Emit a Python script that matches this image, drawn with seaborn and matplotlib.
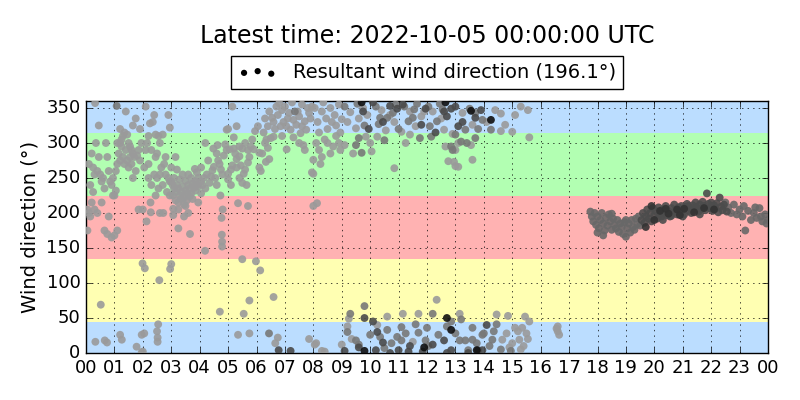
import matplotlib
matplotlib.use('Agg')
import matplotlib.pyplot as plt
import pandas as pd
import seaborn as sns

plt.style.use('classic')

# (hour of day, wind direction in degrees) grouped by how dark the marker is
light_pts = [
    (0.05, 205), (0.1, 200), (0.15, 195), (0.1, 270), (0.2, 285), (0.25, 265), (0.3, 255), (0.35, 300),
    (0.4, 260), (0.5, 255), (0.55, 245), (0.6, 250), (0.7, 300), (0.75, 280), (0.8, 260), (0.85, 245),
    (0.9, 240), (0.95, 250), (0.05, 175), (0.2, 215), (0.3, 205), (0.4, 200), (0.55, 215), (0.65, 175),
    (0.75, 170), (0.8, 195), (0.9, 165), (0.52, 69), (0.33, 16), (0.66, 18), (0.74, 15), (0.32, 357),
    (0.45, 325), (0.15, 240), (0.25, 230), (0.45, 280), (0.65, 235), (0.95, 225),
    (1.0, 225), (1.05, 232), (1.05, 260), (1.1, 270), (1.15, 285), (1.2, 300), (1.25, 305), (1.3, 310),
    (1.35, 315), (1.45, 312), (1.5, 300), (1.55, 295), (1.6, 290), (1.65, 285), (1.7, 280), (1.8, 282),
    (1.85, 290), (1.9, 275), (1.3, 280), (1.35, 270), (1.4, 290), (1.45, 275), (1.5, 265), (1.6, 270),
    (1.65, 250), (1.75, 260), (1.2, 275), (1.1, 300), (1.25, 295), (1.55, 280), (1.95, 300), (1.4, 345),
    (1.2, 320), (1.65, 325), (1.9, 320), (1.75, 335), (1.85, 205), (1.0, 168), (1.1, 175), (1.2, 26),
    (1.26, 19), (1.96, 26),
    (2.05, 265), (2.1, 290), (2.15, 300), (2.2, 310), (2.25, 328), (2.35, 330), (2.4, 340), (2.1, 352),
    (2.3, 290), (2.45, 312), (2.55, 310), (2.6, 300), (2.45, 280), (2.2, 250), (2.3, 240), (2.4, 255),
    (2.5, 250), (2.6, 255), (2.65, 265), (2.75, 270), (2.8, 255), (2.9, 250), (2.95, 245), (2.45, 225),
    (2.13, 188), (2.27, 215), (2.28, 201), (2.72, 200), (2.6, 200), (2.0, 205), (2.2, 270), (2.55, 235),
    (2.7, 240), (2.85, 230), (2.9, 340), (2.95, 322), (2.7, 312), (2.5, 285), (2.8, 280), (2.95, 225),
    (1.99, 128), (2.07, 121), (2.58, 104), (2.96, 120), (3.0, 127), (2.54, 41), (2.5, 31), (2.52, 22),
    (2.52, 16), (2.0, 2), (2.05, 28), (1.78, 9), (1.96, 1),
    (3.0, 245), (3.05, 240), (3.1, 235), (3.15, 230), (3.2, 240), (3.25, 235), (3.3, 225), (3.35, 230),
    (3.4, 238), (3.45, 222), (3.5, 232), (3.55, 228), (3.6, 240), (3.65, 235), (3.7, 228), (3.75, 242),
    (3.8, 236), (3.85, 245), (3.9, 240), (3.95, 250), (3.05, 225), (3.15, 218), (3.25, 215), (3.35, 220),
    (3.45, 212), (3.55, 218), (3.65, 224), (3.75, 220), (3.85, 232), (3.95, 238), (3.1, 250), (3.3, 248),
    (3.5, 246), (3.7, 250), (3.9, 258), (3.2, 262), (3.6, 255), (3.4, 255), (3.83, 263), (3.25, 205),
    (3.5, 210), (3.07, 197), (3.25, 178), (3.66, 170), (3.07, 206), (3.45, 195), (3.95, 215), (3.6, 200),
    (3.0, 265), (3.15, 280),
    (4.05, 245), (4.1, 240), (4.15, 250), (4.2, 235), (4.25, 255), (4.3, 275), (4.35, 243), (4.4, 252),
    (4.45, 261), (4.5, 266), (4.48, 292), (4.55, 250), (4.6, 285), (4.65, 275), (4.7, 270), (4.75, 262),
    (4.8, 255), (4.85, 282), (4.9, 298), (4.95, 290), (4.19, 146), (4.81, 205), (4.77, 193), (4.78, 169),
    (4.79, 159), (4.79, 152), (4.71, 59), (4.73, 225), (4.05, 228), (4.6, 240), (4.95, 319), (4.63, 297),
    (4.2, 300), (4.05, 265),
    (5.0, 256), (5.1, 262), (5.15, 268), (5.3, 277), (5.4, 281), (5.45, 268), (5.55, 256), (5.6, 262),
    (5.7, 272), (5.75, 280), (5.9, 291), (5.2, 292), (5.4, 295), (5.5, 292), (5.7, 290), (5.05, 291),
    (5.0, 320), (5.3, 324), (5.2, 308), (5.95, 317), (5.15, 352), (5.35, 214), (5.7, 210), (5.5, 134),
    (5.75, 75), (5.55, 56), (5.35, 26), (5.75, 28), (5.0, 248), (5.5, 243), (5.65, 240), (5.4, 250),
    (5.25, 285), (5.6, 300), (5.85, 305), (5.1, 240), (5.3, 265), (5.8, 295),
    (5.98, 131), (6.13, 118), (6.6, 80), (6.75, 22), (6.66, 14), (6.1, 286), (6.3, 300), (6.4, 293),
    (6.45, 277), (6.33, 273), (6.5, 307), (6.6, 309), (6.05, 324), (6.4, 324), (6.55, 336), (6.7, 352),
    (6.8, 357), (6.9, 347), (6.85, 324), (6.1, 265), (6.15, 260), (6.25, 315), (6.3, 335), (6.45, 345),
    (6.6, 330), (6.75, 340), (6.95, 330), (6.2, 285), (6.35, 305), (6.65, 320), (6.9, 310),
    (7.06, 291), (7.0, 352), (7.15, 343), (7.3, 333), (7.5, 338), (7.6, 324), (7.7, 331), (7.85, 343),
    (7.95, 352), (7.05, 324), (7.2, 319), (7.4, 326), (7.55, 314), (7.6, 355), (7.75, 319), (7.65, 297),
    (7.7, 290), (7.95, 258), (8.0, 276), (7.85, 20), (8.1, 14), (8.0, 210), (7.25, 358), (7.45, 345),
    (7.8, 350), (7.1, 335), (7.9, 335), (7.5, 300), (7.3, 308),
    (8.1, 300), (8.2, 290), (8.3, 280), (8.4, 305), (8.5, 300), (8.6, 285), (8.7, 295), (8.8, 310),
    (8.9, 300), (8.15, 330), (8.3, 345), (8.45, 335), (8.6, 350), (8.75, 340), (8.9, 355), (8.2, 315),
    (8.5, 320), (8.8, 325), (8.05, 350), (8.35, 358), (8.65, 330), (8.95, 315), (8.13, 214), (8.0, 256),
    (8.25, 270), (8.05, 12), (8.4, 2),
    (9.0, 334), (9.3, 344), (9.75, 350), (9.9, 340), (9.5, 321), (9.85, 309), (9.1, 297), (10.05, 288),
    (10.4, 347), (10.85, 330), (10.55, 318), (10.25, 309), (10.85, 264), (11.1, 316), (11.4, 345),
    (11.8, 338), (11.6, 324), (11.4, 312), (12.2, 345), (12.6, 319), (12.9, 313), (12.65, 295),
    (12.75, 274), (13.0, 267), (13.25, 343), (13.6, 326), (13.55, 297), (13.0, 290), (14.6, 317),
    (14.75, 326), (15.0, 316), (15.6, 308), (15.3, 352), (15.55, 347), (14.6, 342), (13.1, 300),
    (13.6, 276), (13.1, 266), (12.95, 273), (9.2, 330), (8.95, 290), (9.6, 335), (10.7, 340), (11.9, 345),
    (12.5, 335), (14.4, 347), (14.1, 330), (15.1, 340), (10.0, 300), (11.25, 300), (9.4, 285),
    (9.25, 49), (9.35, 20), (8.3, 3), (10.25, 40), (10.6, 52), (11.15, 56), (11.7, 56), (12.34, 76),
    (13.15, 56), (14.45, 55), (14.85, 53), (15.1, 36), (15.2, 31), (15.35, 36), (15.45, 52), (15.5, 28),
    (15.4, 10), (15.25, 19), (15.0, 14), (14.8, 28), (14.65, 19), (16.56, 35), (16.6, 31), (16.65, 26),
    (16.6, 38), (15.6, 45), (15.55, 20), (15.3, 5), (14.9, 8), (9.0, 12), (9.2, 38), (11.5, 16),
]

mid_pts = [
    (1.08, 353), (6.44, 28), (7.35, 345),
    (9.1, 352), (9.55, 356), (9.6, 307), (9.7, 286), (9.5, 297), (10.2, 352), (10.6, 336), (10.3, 327),
    (10.5, 304), (10.8, 343), (11.2, 352), (11.65, 356), (11.35, 331), (11.75, 307), (11.5, 336),
    (12.05, 352), (12.45, 356), (12.1, 324), (12.35, 331), (12.15, 309), (12.85, 295), (13.5, 349),
    (13.35, 319), (13.2, 302), (13.4, 300), (13.7, 343), (13.95, 333), (14.25, 319), (13.0, 312),
    (12.9, 290), (13.7, 307), (10.35, 336), (11.0, 320), (12.55, 348), (13.8, 320), (9.8, 325),
    (10.9, 355), (11.55, 348),
    (9.3, 56), (9.8, 67), (9.2, 30), (9.5, 18), (10.0, 26), (10.35, 23), (10.6, 33), (10.75, 14),
    (10.95, 23), (11.1, 37), (11.25, 28), (11.7, 29), (11.95, 18), (11.6, 41), (12.0, 36), (12.2, 56),
    (12.4, 26), (12.7, 38), (12.05, 10), (13.0, 28), (13.35, 18), (13.6, 36), (13.95, 26), (13.15, 18),
    (13.6, 19), (14.0, 28), (14.35, 31), (14.45, 41), (14.3, 19), (14.2, 10), (14.6, 5), (13.75, 14),
    (12.85, 45), (13.2, 48), (10.5, 7), (11.1, 18), (9.6, 12), (14.95, 3), (13.45, 4),
]

dark_pts = [
    (6.78, 4), (7.2, 3),
    (9.75, 345), (10.45, 330), (10.95, 349), (11.15, 355), (11.95, 349), (12.7, 338), (12.85, 349),
    (13.7, 336), (13.9, 347), (13.0, 352), (10.7, 353), (11.8, 326), (12.6, 345), (9.95, 320),
    (12.3, 315), (13.25, 330), (13.1, 324), (10.1, 358),
    (9.8, 50), (9.6, 8), (10.1, 45), (10.2, 4), (10.45, 15), (10.7, 0), (11.0, 4), (11.35, 2), (11.85, 2),
    (12.6, 18), (12.85, 4), (12.7, 0), (13.8, 4), (13.45, 0), (13.95, 4), (10.25, 30), (11.4, 10),
    (12.2, 12), (14.1, 40), (9.1, 3),
]

black_pts = [
    (13.55, 346), (14.25, 333), (12.65, 358), (9.7, 358),
    (9.8, 3), (12.7, 50), (12.85, 33), (11.9, 8), (13.75, 4),
]

band_mid_pts = [
    (17.75, 202), (17.8, 195), (17.85, 188), (17.9, 200), (17.95, 183), (18.0, 195), (18.05, 178),
    (18.1, 190), (18.15, 200), (18.2, 185), (18.25, 175), (18.3, 193), (18.35, 182), (18.4, 198),
    (18.45, 188), (18.5, 176), (18.55, 192), (18.6, 183), (18.65, 178), (18.7, 190), (18.75, 173),
    (18.8, 185), (18.85, 180), (18.9, 170), (18.95, 187), (19.0, 166), (19.05, 178), (19.1, 185),
    (19.15, 172), (19.2, 190), (19.25, 180), (19.3, 176), (19.35, 192), (19.4, 184), (18.0, 172),
    (18.2, 168), (18.5, 199), (19.0, 190), (19.45, 195), (19.5, 182),
    (22.6, 208), (22.7, 200), (22.8, 212), (22.9, 198), (23.0, 205), (23.1, 195), (23.2, 175),
    (23.3, 203), (23.4, 190), (23.5, 200), (23.6, 193), (23.7, 207), (23.8, 188), (23.9, 198),
    (24.0, 190), (23.95, 185), (23.55, 208), (23.15, 210), (22.5, 215), (23.75, 195),
]

band_dark_pts = [
    (19.55, 190), (19.6, 200), (19.65, 186), (19.7, 195), (19.75, 205), (19.8, 192), (19.85, 200),
    (19.9, 188), (19.95, 207), (20.0, 197), (20.05, 203), (20.1, 192), (20.15, 208), (20.2, 199),
    (20.25, 195), (20.3, 205), (20.35, 200), (20.4, 210), (20.45, 197), (20.5, 203), (20.55, 195),
    (20.6, 207), (20.65, 200), (20.7, 212), (20.75, 204), (20.8, 198), (20.85, 208), (20.9, 202),
    (20.95, 210), (21.0, 204), (21.05, 198), (21.1, 209), (21.15, 213), (21.2, 203), (21.25, 207),
    (21.3, 200), (21.35, 211), (21.4, 205), (21.45, 215), (21.5, 208), (21.55, 202), (21.6, 212),
    (21.65, 206), (21.7, 216), (21.75, 210), (21.8, 204), (21.85, 228), (21.9, 213), (21.95, 207),
    (22.0, 215), (22.05, 203), (22.1, 211), (22.15, 206), (22.2, 214), (22.25, 201), (22.3, 222),
    (22.35, 209), (22.4, 204), (22.45, 212), (22.55, 202), (20.3, 190), (21.0, 195), (21.6, 198),
    (22.0, 208), (21.2, 210), (20.6, 196),
]

band_darker_pts = [
    (19.7, 180), (19.9, 210), (20.2, 203), (20.5, 199), (20.8, 205), (21.05, 206), (21.4, 201),
    (21.75, 207), (22.1, 205), (20.0, 190), (20.4, 206), (20.9, 197),
]

shade_colors = {
    'light': '#9a9a9a', 'mid': '#787878', 'dark': '#4a4a4a', 'black': '#101010',
    'band_mid': '#686868', 'band_dark': '#4c4c4c', 'band_darker': '#333333',
}

# direction sectors: (low, high, colour)
sectors = [(0, 45, 'dodgerblue'), (45, 135, 'yellow'), (135, 225, 'red'),
           (225, 315, 'lime'), (315, 360, 'dodgerblue')]

resultant_dir = 196.1
latest_time = '2022-10-05 00:00:00 UTC'

groups = {
    'light': light_pts, 'mid': mid_pts, 'dark': dark_pts, 'black': black_pts,
    'band_mid': band_mid_pts, 'band_dark': band_dark_pts, 'band_darker': band_darker_pts,
}
frames = []
for name, pts in groups.items():
    part = pd.DataFrame(pts, columns=['hour', 'direction'])
    part['shade'] = name
    frames.append(part)
df = pd.concat(frames, ignore_index=True)

fig, ax = plt.subplots(figsize=(8, 4), dpi=100, facecolor='white')
fig.subplots_adjust(left=0.1075, right=0.96, bottom=0.1175, top=0.7475)

for lo, hi, col in sectors:
    ax.axhspan(lo, hi, color=col, alpha=0.3, linewidth=0, zorder=0)

sns.scatterplot(data=df, x='hour', y='direction', hue='shade', palette=shade_colors,
                s=32, linewidth=0, alpha=0.9, legend=False, ax=ax, zorder=3)

ax.set_xlim(0, 24)
ax.set_ylim(0, 360)
ax.set_xticks(range(25))
ax.set_xticklabels([f'{h % 24:02d}' for h in range(25)])
ax.set_yticks(range(0, 351, 50))
ax.tick_params(labelsize=13)
ax.set_xlabel('')
ax.set_ylabel('Wind direction (°)', fontsize=14)
ax.grid(True, linestyle=':', color='k')

ax.scatter([], [], s=20, c='k', linewidth=0, label=f'Resultant wind direction ({resultant_dir}°)')
ax.legend(loc='lower center', bbox_to_anchor=(0.5, 1.01), scatterpoints=3, fontsize=14,
          borderpad=0.35)
ax.set_title(f'Latest time: {latest_time}', fontsize=17, pad=42)

fig.savefig('out.png', dpi=100, facecolor='white')
